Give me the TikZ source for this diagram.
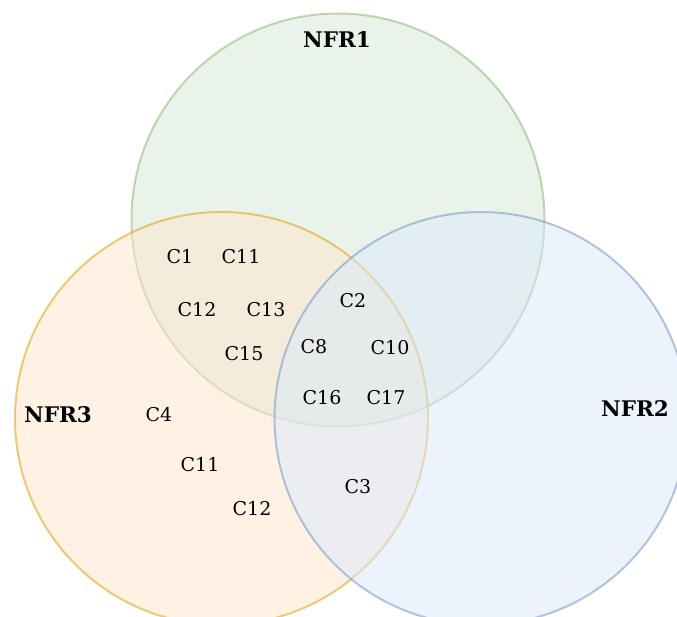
\documentclass[tikz,border=0pt]{standalone}
\usepackage{fontspec}
\setmainfont{DejaVu Serif}
\begin{document}
\begin{tikzpicture}[x=1pt,y=-1pt,
  setcirc/.style={circle,inner sep=0pt,minimum size=413pt,line width=2pt,draw opacity=0.5,fill opacity=0.5},
  lbl/.style={inner sep=0pt,font=\fontsize{19}{21}\selectfont},
  title/.style={inner sep=0pt,font=\fontsize{21.5}{23}\selectfont\bfseries}]
\useasboundingbox (0,0) rectangle (677,617);
\clip (0,0) rectangle (677,617);
\node[setcirc,draw={rgb,255:red,130;green,179;blue,102},fill={rgb,255:red,213;green,232;blue,212}] (nfr1) at (338,220) {};
\node[setcirc,draw={rgb,255:red,215;green,155;blue,0},fill={rgb,255:red,255;green,230;blue,204}] (nfr3) at (221.5,418.5) {};
\node[setcirc,draw={rgb,255:red,108;green,142;blue,191},fill={rgb,255:red,218;green,232;blue,252}] (nfr2) at (481,418.5) {};
\node[title] (t1) at (337,40) {NFR1};
\node[title] (t2) at (635,409) {NFR2};
\node[title] (t3) at (58,415) {NFR3};
\node[lbl] (c1) at (180,257) {C1};
\node[lbl] (c11a) at (241,257) {C11};
\node[lbl] (c12a) at (197,310) {C12};
\node[lbl] (c13) at (266,310) {C13};
\node[lbl] (c15) at (244,354) {C15};
\node[lbl] (c2) at (353,301) {C2};
\node[lbl] (c8) at (314,347) {C8};
\node[lbl] (c10) at (390,348) {C10};
\node[lbl] (c16) at (322,398) {C16};
\node[lbl] (c17) at (386,398) {C17};
\node[lbl] (c4) at (159,415) {C4};
\node[lbl] (c11b) at (200,465) {C11};
\node[lbl] (c12b) at (252,509) {C12};
\node[lbl] (c3) at (358,487) {C3};
\end{tikzpicture}
\end{document}
